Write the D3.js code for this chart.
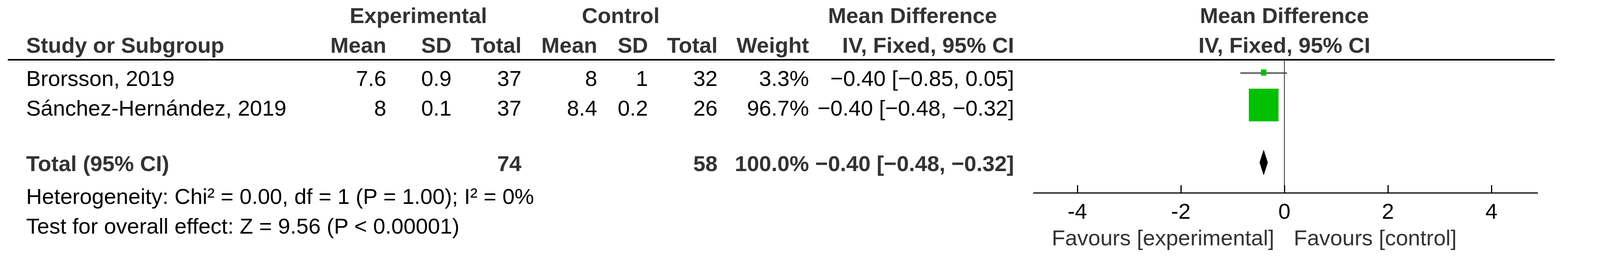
<!DOCTYPE html>
<html><head><meta charset="utf-8">
<script src="https://cdn.jsdelivr.net/npm/d3@7"></script>
<style>body{margin:0;background:#fff}</style>
</head><body>
<script>
var width = 4142, height = 663;

var studies = ["Brorsson, 2019", "Sánchez-Hernández, 2019"];
var expMean = ["7.6", "8"], expSD = ["0.9", "0.1"], expTotal = ["37", "37"];
var ctlMean = ["8", "8.4"], ctlSD = ["1", "0.2"], ctlTotal = ["32", "26"];
var weights = [3.3, 96.7];
var md = [-0.40, -0.40], lo = [-0.85, -0.48], hi = [0.05, -0.32];
var total = {exp: "74", ctl: "58", weight: "100.0%", md: -0.40, lo: -0.48, hi: -0.32};
var ticks = [-4, -2, 0, 2, 4];
var hetText = "Heterogeneity: Chi² = 0.00, df = 1 (P = 1.00); I² = 0%";
var effText = "Test for overall effect: Z = 9.56 (P < 0.00001)";

var fmt = d3.format(".2f");
function ci(m, l, h) { return fmt(m) + " [" + fmt(l) + ", " + fmt(h) + "]"; }

var svg = d3.select("body").append("svg")
    .attr("width", width).attr("height", height)
    .attr("font-family", "Liberation Sans, Arial, sans-serif")
    .attr("font-size", 56);

var x = d3.scaleLinear().domain([-4, 4]).range([2758, 3818]);

function txt(s, px, py, anchor, bold, fill) {
    return svg.append("text").attr("x", px).attr("y", py)
        .attr("text-anchor", anchor || "start")
        .attr("font-weight", bold ? "bold" : null)
        .attr("fill", fill || "#000").text(s);
}

// headers
txt("Experimental", 1071, 59, "middle", true, "#333");
txt("Control", 1589, 59, "middle", true, "#333");
txt("Mean Difference", 2336, 59, "middle", true, "#333");
txt("Mean Difference", x(0), 59, "middle", true, "#333");
txt("Study or Subgroup", 67, 135, "start", true, "#333");
var hcols = [["Mean", 989], ["SD", 1156], ["Total", 1335], ["Mean", 1529], ["SD", 1659], ["Total", 1837], ["Weight", 2071], ["IV, Fixed, 95% CI", 2596]];
hcols.forEach(function (c) { txt(c[0], c[1], 135, "end", true, "#333"); });
txt("IV, Fixed, 95% CI", x(0), 135, "middle", true, "#333");

svg.append("line").attr("x1", 20).attr("x2", 3980).attr("y1", 153).attr("y2", 153)
    .attr("stroke", "#000").attr("stroke-width", 4);

// rows
var rowY = [220, 296];
var maxSide = 76;
studies.forEach(function (s, i) {
    var y = rowY[i];
    txt(s, 67, y);
    txt(expMean[i], 989, y, "end");
    txt(expSD[i], 1156, y, "end");
    txt(expTotal[i], 1335, y, "end");
    txt(ctlMean[i], 1529, y, "end");
    txt(ctlSD[i], 1659, y, "end");
    txt(ctlTotal[i], 1837, y, "end");
    txt(weights[i].toFixed(1) + "%", 2071, y, "end");
    txt(ci(md[i], lo[i], hi[i]), 2596, y, "end");
    var cy = y - 29 + (i === 0 ? -4 : 0);
    svg.append("line").attr("x1", x(lo[i])).attr("x2", x(hi[i]))
        .attr("y1", cy).attr("y2", cy).attr("stroke", "#333").attr("stroke-width", 3);
    var side = maxSide * Math.sqrt(weights[i] / 96.7);
    svg.append("rect").attr("x", x(md[i]) - side / 2).attr("y", cy - side / 2 - 2)
        .attr("width", side).attr("height", side * 1.1).attr("fill", "#00c000");
});

// total
txt("Total (95% CI)", 67, 438, "start", true, "#333");
txt(total.exp, 1335, 438, "end", true, "#333");
txt(total.ctl, 1837, 438, "end", true, "#333");
txt(total.weight, 2071, 438, "end", true, "#333");
txt(ci(total.md, total.lo, total.hi), 2596, 438, "end", true, "#333");
var dy = 416;
svg.append("path")
    .attr("d", "M" + x(total.lo) + "," + dy + "L" + x(total.md) + "," + (dy - 33) +
        "L" + x(total.hi) + "," + dy + "L" + x(total.md) + "," + (dy + 33) + "Z")
    .attr("fill", "#000");

txt(hetText, 67, 522);
txt(effText, 67, 598);

// zero line
svg.append("line").attr("x1", x(0)).attr("x2", x(0)).attr("y1", 153).attr("y2", 494)
    .attr("stroke", "#333").attr("stroke-width", 2);

// axis
var axisG = svg.append("g").attr("transform", "translate(0,494)");
axisG.call(d3.axisTop(x).tickValues(ticks).tickSize(20).tickFormat(""));
axisG.select(".domain").remove();
axisG.selectAll(".tick line").attr("stroke", "#000").attr("stroke-width", 3);
axisG.append("line").attr("x1", 2645).attr("x2", 3937).attr("stroke", "#000").attr("stroke-width", 3);
ticks.forEach(function (t) { txt(String(t), x(t), 560, "middle"); });

txt("Favours [experimental]", 3262, 628, "end", false, "#333");
txt("Favours [control]", 3312, 628, "start", false, "#333");
</script>
</body></html>
